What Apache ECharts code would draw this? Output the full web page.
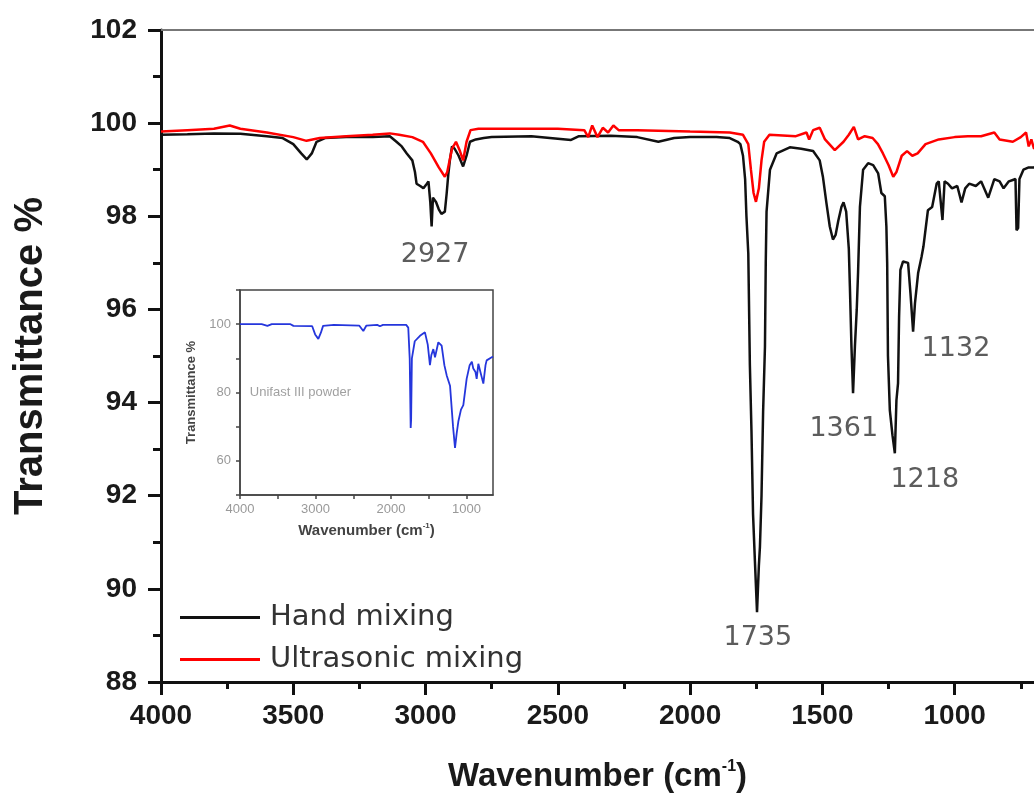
<!DOCTYPE html>
<html>
<head>
<meta charset="utf-8">
<script src="https://cdn.jsdelivr.net/npm/echarts@6/dist/echarts.min.js"></script>
<style>
  html, body { margin: 0; padding: 0; background: #fff; overflow: hidden; }
  #main { width: 1034px; height: 798px; }
</style>
</head>
<body>
<div id="main"></div>
<script>
// hand mixing (black)
const waveHand = [4000, 3900, 3800, 3700, 3600, 3540, 3500, 3470, 3449, 3430, 3412, 3380, 3300, 3200, 3135, 3110, 3090, 3071, 3050, 3040,
  3034, 3020, 3008, 2995, 2989, 2982, 2977, 2972, 2960, 2950, 2940, 2934, 2927, 2920, 2914, 2908, 2900, 2890, 2875, 2858,
  2845, 2832, 2810, 2780, 2750, 2600, 2450, 2420, 2300, 2200, 2120, 2060, 2000, 1900, 1850, 1820, 1810, 1800, 1792, 1787,
  1780, 1774, 1768, 1762, 1755, 1747, 1740, 1736, 1730, 1724, 1717, 1714, 1711, 1698, 1673, 1623, 1580, 1535, 1510, 1498,
  1485, 1472, 1460, 1450, 1440, 1428, 1420, 1410, 1400, 1396, 1390, 1384, 1377, 1370, 1365, 1358, 1346, 1327, 1308, 1289,
  1277, 1264, 1258, 1255, 1252, 1245, 1235, 1226, 1220, 1214, 1210, 1205, 1195, 1176, 1167, 1157, 1150, 1138, 1125, 1118,
  1101, 1085, 1068, 1060, 1046, 1038, 1025, 1010, 990, 974, 960, 945, 920, 900, 873, 850, 830, 815, 795, 780,
  770, 766, 760, 755, 740, 720, 700, 680];
const tHand = [99.75, 99.76, 99.78, 99.77, 99.72, 99.68, 99.55, 99.35, 99.22, 99.35, 99.6, 99.68, 99.7, 99.7, 99.72, 99.6, 99.5, 99.35, 99.2, 98.95,
  98.7, 98.65, 98.6, 98.7, 98.75, 98.3, 97.78, 98.4, 98.3, 98.15, 98.05, 98.03, 98.1, 98.5, 98.9, 99.2, 99.5, 99.45, 99.3, 99.07,
  99.3, 99.6, 99.65, 99.68, 99.7, 99.72, 99.64, 99.72, 99.73, 99.7, 99.6, 99.68, 99.7, 99.7, 99.68, 99.6, 99.55, 99.3, 98.8, 98.0,
  97.2, 94.8, 93.4, 91.6, 90.6, 89.5, 90.5, 90.9, 92.0, 93.8, 95.2, 97.0, 98.1, 99.0, 99.35, 99.48, 99.45, 99.4, 99.2, 98.85,
  98.3, 97.78, 97.5, 97.6, 97.9, 98.2, 98.3, 98.1, 97.3, 96.5, 95.2, 94.2, 95.2, 96.0, 96.8, 98.2, 99.0, 99.14, 99.1, 98.92,
  98.5, 98.43, 97.78, 97.0, 95.0, 93.84, 93.3, 92.91, 94.05, 94.41, 95.84, 96.85, 97.03, 97.0, 96.35, 95.52, 96.13, 96.78, 97.13, 97.35,
  98.13, 98.2, 98.7, 98.75, 97.92, 98.75, 98.7, 98.6, 98.65, 98.3, 98.6, 98.7, 98.65, 98.75, 98.4, 98.8, 98.75, 98.6, 98.75, 98.78,
  98.8, 97.7, 97.75, 98.8, 99.0, 99.05, 99.05, 99.1];

// ultrasonic mixing (red)
const waveUltra = [4000, 3900, 3800, 3740, 3700, 3600, 3500, 3450, 3400, 3300, 3200, 3135, 3100, 3050, 3010, 2980, 2950, 2927, 2918, 2900,
  2885, 2870, 2858, 2845, 2830, 2800, 2500, 2400, 2385, 2370, 2350, 2330, 2310, 2290, 2270, 2200, 2000, 1850, 1800, 1780,
  1770, 1760, 1751, 1740, 1730, 1720, 1700, 1600, 1560, 1550, 1535, 1510, 1490, 1453, 1420, 1400, 1381, 1365, 1340, 1310,
  1290, 1271, 1250, 1232, 1220, 1200, 1180, 1160, 1140, 1110, 1060, 1000, 950, 900, 850, 830, 780, 750, 730, 720,
  710, 700, 680];
const tUltra = [99.82, 99.85, 99.88, 99.95, 99.88, 99.8, 99.7, 99.62, 99.68, 99.72, 99.75, 99.78, 99.75, 99.7, 99.6, 99.35, 99.05, 98.85, 98.95, 99.45,
  99.6, 99.4, 99.2, 99.6, 99.85, 99.88, 99.88, 99.85, 99.7, 99.95, 99.7, 99.9, 99.8, 99.95, 99.85, 99.85, 99.82, 99.8, 99.75, 99.55,
  99.0, 98.5, 98.31, 98.6, 99.2, 99.6, 99.75, 99.72, 99.8, 99.65, 99.85, 99.9, 99.65, 99.42, 99.6, 99.75, 99.92, 99.65, 99.72, 99.68,
  99.55, 99.35, 99.1, 98.85, 98.95, 99.3, 99.4, 99.3, 99.35, 99.55, 99.65, 99.7, 99.72, 99.72, 99.8, 99.65, 99.6, 99.7, 99.8, 99.5,
  99.65, 99.45, 99.55];

// inset: Unifast III powder (blue)
const waveInset = [4000, 3713, 3637, 3618, 3579, 3331, 3292, 3044, 3005, 2963, 2929, 2900, 2757, 2422, 2367, 2326, 2183, 2147, 2107, 1800,
  1772, 1753, 1740, 1734, 1724, 1686, 1617, 1551, 1514, 1485, 1466, 1440, 1418, 1374, 1330, 1294, 1263, 1219, 1179, 1153,
  1131, 1109, 1074, 1043, 999, 959, 930, 911, 882, 866, 844, 822, 778, 749, 734, 667, 650];
const tInset = [100, 100, 99.5, 99.3, 100, 100, 99.5, 99.4, 97, 95.7, 97.5, 99.5, 99.8, 99.6, 98, 99.6, 99.8, 99.4, 99.8, 99.8,
  99, 90, 69.6, 72, 90, 95, 96.6, 97.6, 94, 88, 91, 92.7, 90.3, 94.7, 93.7, 88, 85, 82, 70, 63.8,
  68, 71.5, 75, 76.3, 84, 88, 89, 87, 86, 84, 88.4, 88.4, 82.6, 88, 89.4, 90.3, 90.5];

// peak labels (placed at wavenumber / transmittance)
const annoText = ['2927', '1735', '1361', '1218', '1132'];
const annoWave = [2964, 1744, 1419, 1113, 995];
const annoT = [97.17, 88.94, 93.43, 92.34, 95.15];

const majorTicks = [4000, 3500, 3000, 2500, 2000, 1500, 1000];
const minorTicks = [3750, 3250, 2750, 2250, 1750, 1250, 750];
const insetTicks = [4000, 3500, 3000, 2500, 2000, 1500, 1000];
const insetLabels = [4000, 3000, 2000, 1000];

const pair = (xs, ys) => xs.map((x, i) => [x, ys[i]]);
const plain = v => String(v);

const axisFont = 'Arial, "Liberation Sans", sans-serif';
const textFont = '"DejaVu Sans", sans-serif';

const chart = echarts.init(document.getElementById('main'));

const option = {
  animation: false,
  backgroundColor: '#fff',
  legend: {
    data: ['Hand mixing', 'Ultrasonic mixing'],
    orient: 'vertical',
    left: 175,
    top: 598,
    icon: 'rect',
    itemWidth: 80,
    itemHeight: 3,
    itemGap: 13,
    formatter: name => '{t|' + name + '}',
    textStyle: {
      rich: { t: { fontFamily: textFont, fontSize: 29, color: '#333', lineHeight: 30, padding: [0, 0, 0, 5] } }
    }
  },
  grid: [
    { left: 161, top: 30, right: 0, bottom: 116, containLabel: false, outerBoundsMode: 'none' },
    { left: 240, top: 290, width: 253, height: 205, show: true, borderColor: '#444', borderWidth: 1.5,
      backgroundColor: '#fff', containLabel: false, outerBoundsMode: 'none' }
  ],
  xAxis: [
    {
      type: 'value', gridIndex: 0, position: 'bottom', min: 700, max: 4000, inverse: true,
      splitLine: { show: false },
      axisLine: { lineStyle: { color: '#111', width: 3 } },
      axisTick: { customValues: majorTicks, length: 13, lineStyle: { color: '#111', width: 3 } },
      axisLabel: { customValues: majorTicks, formatter: plain, fontFamily: axisFont, fontSize: 28, fontWeight: 'bold', color: '#1a1a1a', margin: 20 },
      name: '{n|Wavenumber (cm}{s|-1}{n|)}',
      nameLocation: 'middle', nameGap: 77, nameMoveOverlap: false,
      nameTextStyle: {
        rich: {
          n: { fontFamily: axisFont, fontSize: 33, fontWeight: 'bold', color: '#1a1a1a', lineHeight: 36 },
          s: { fontFamily: axisFont, fontSize: 16, fontWeight: 'bold', color: '#1a1a1a', verticalAlign: 'top', lineHeight: 36 }
        }
      }
    },
    {
      type: 'value', gridIndex: 0, position: 'bottom', min: 700, max: 4000, inverse: true,
      splitLine: { show: false },
      axisLine: { show: false },
      axisTick: { customValues: minorTicks, length: 7, lineStyle: { color: '#111', width: 3 } },
      axisLabel: { show: false }
    },
    {
      type: 'value', gridIndex: 0, position: 'top', min: 700, max: 4000, inverse: true,
      splitLine: { show: false },
      axisLine: { lineStyle: { color: '#777', width: 2 } },
      axisTick: { show: false },
      axisLabel: { show: false }
    },
    {
      type: 'value', gridIndex: 1, position: 'bottom', min: 650, max: 4000, inverse: true,
      splitLine: { show: false },
      axisLine: { lineStyle: { color: '#444', width: 1.5 } },
      axisTick: { customValues: insetTicks, length: 4, lineStyle: { color: '#444', width: 1.5 } },
      axisLabel: { customValues: insetLabels, formatter: plain, fontFamily: axisFont, fontSize: 13, color: '#999', margin: 8 },
      name: '{n|Wavenumber (cm}{s|-1}{n|)}',
      nameLocation: 'middle', nameGap: 27, nameMoveOverlap: false,
      nameTextStyle: {
        rich: {
          n: { fontFamily: axisFont, fontSize: 15, fontWeight: 'bold', color: '#444', lineHeight: 17 },
          s: { fontFamily: axisFont, fontSize: 8, fontWeight: 'bold', color: '#444', verticalAlign: 'top', lineHeight: 17 }
        }
      }
    }
  ],
  yAxis: [
    {
      type: 'value', gridIndex: 0, min: 88, max: 102, interval: 2,
      splitLine: { show: false },
      axisLine: { show: true, lineStyle: { color: '#111', width: 3 } },
      axisTick: { show: true, length: 13, lineStyle: { color: '#111', width: 3 } },
      minorTick: { show: true, splitNumber: 2, length: 8, lineStyle: { color: '#111', width: 3 } },
      minorSplitLine: { show: false },
      axisLabel: { formatter: plain, fontFamily: axisFont, fontSize: 28, fontWeight: 'bold', color: '#1a1a1a', margin: 24 },
      name: 'Transmittance %',
      nameLocation: 'middle', nameGap: 110, nameMoveOverlap: false,
      nameTextStyle: { fontFamily: axisFont, fontSize: 40, fontWeight: 'bold', color: '#1a1a1a' }
    },
    {
      type: 'value', gridIndex: 1, min: 50, max: 110, interval: 10,
      splitLine: { show: false },
      axisLine: { show: true, lineStyle: { color: '#444', width: 1.5 } },
      axisTick: { show: true, length: 4, lineStyle: { color: '#444', width: 1.5 } },
      axisLabel: {
        fontFamily: axisFont, fontSize: 13, color: '#999', margin: 9,
        formatter: v => (v % 20 === 0 && v >= 60 && v <= 100) ? String(v) : ''
      },
      name: 'Transmittance %',
      nameLocation: 'middle', nameGap: 42, nameMoveOverlap: false,
      nameTextStyle: { fontFamily: axisFont, fontSize: 13, fontWeight: 'bold', color: '#444' }
    }
  ],
  series: [
    {
      name: 'Hand mixing', type: 'line', xAxisIndex: 0, yAxisIndex: 0,
      data: pair(waveHand, tHand), showSymbol: false, symbol: 'none',
      itemStyle: { color: '#111' }, lineStyle: { color: '#111', width: 2.5 }
    },
    {
      name: 'Ultrasonic mixing', type: 'line', xAxisIndex: 0, yAxisIndex: 0,
      data: pair(waveUltra, tUltra), showSymbol: false, symbol: 'none',
      itemStyle: { color: '#ff0000' }, lineStyle: { color: '#ff0000', width: 2.5 }
    },
    {
      name: 'peaks', type: 'scatter', xAxisIndex: 0, yAxisIndex: 0, symbolSize: 0,
      data: annoWave.map((w, i) => [w, annoT[i], annoText[i]]),
      label: {
        show: true, position: 'inside', formatter: p => p.data[2],
        fontFamily: textFont, fontSize: 27, color: '#333'
      }
    },
    {
      name: 'Unifast III powder', type: 'line', xAxisIndex: 3, yAxisIndex: 1,
      data: pair(waveInset, tInset), showSymbol: false, symbol: 'none',
      itemStyle: { color: '#2536dc' }, lineStyle: { color: '#2536dc', width: 1.8 }
    },
    {
      name: 'inset note', type: 'scatter', xAxisIndex: 3, yAxisIndex: 1, symbolSize: 0,
      data: [[3870, 80, 'Unifast III powder']],
      label: {
        show: true, position: 'right', distance: 0, formatter: p => p.data[2],
        fontFamily: axisFont, fontSize: 13, color: '#888'
      }
    }
  ]
};

chart.setOption(option);
</script>
</body>
</html>
